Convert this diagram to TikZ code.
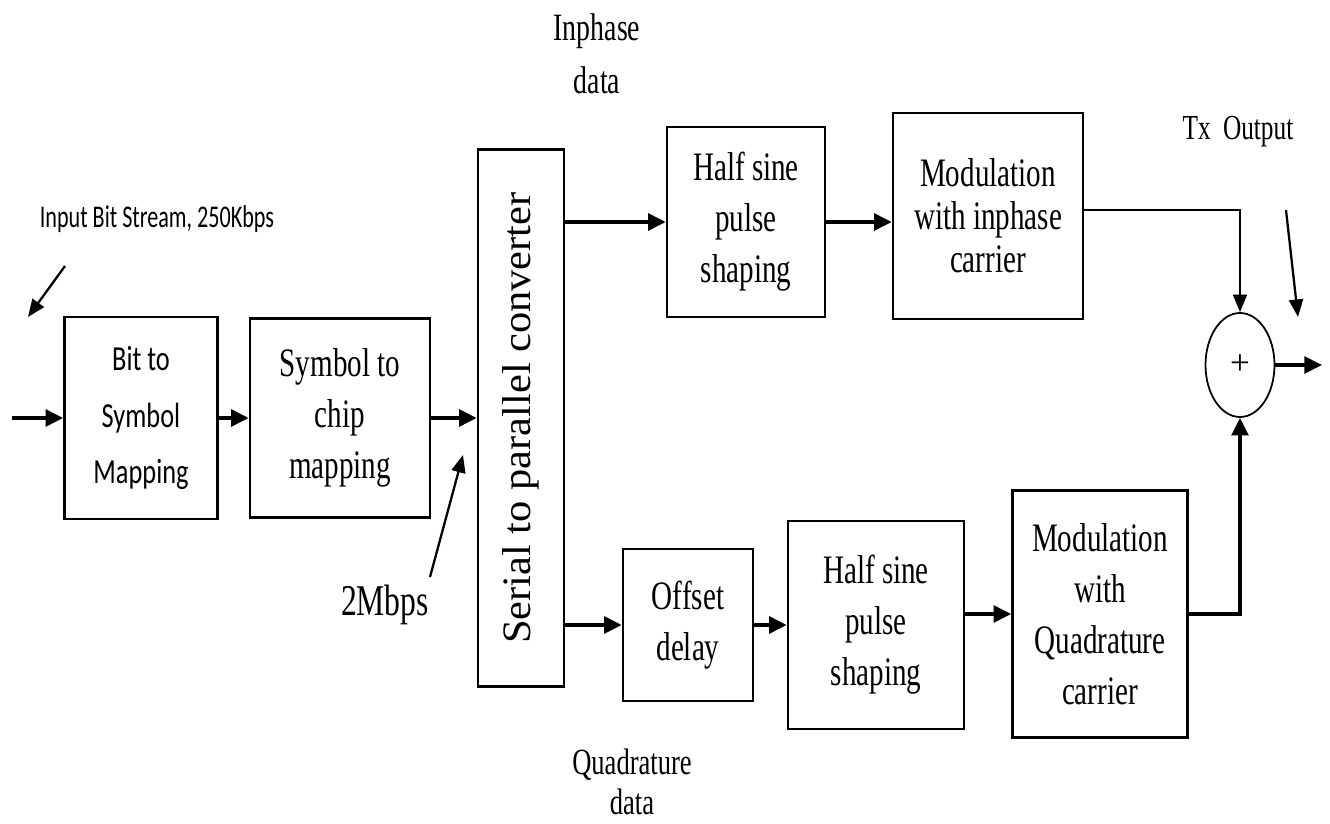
\documentclass[tikz,border=0pt]{standalone}
\usepackage{fontspec}
\usetikzlibrary{arrows.meta,shapes.geometric}
\setmainfont{Liberation Serif}
\newfontfamily\narrowserif[FakeStretch=0.72]{Liberation Serif}
\newfontfamily\wideserif[FakeStretch=1.05]{Liberation Serif}
\newfontfamily\narrowsans[FakeStretch=0.75]{Carlito}
\newfontfamily\slimsans[FakeStretch=0.7]{Carlito}

\begin{document}
\begin{tikzpicture}[x=0.02cm, y=-0.02cm,
  block/.style={draw, line width=1.5pt, align=center, inner sep=0pt,
    font=\narrowserif\fontsize{23}{29}\selectfont},
  flow/.style={line width=2pt, -{Triangle[length=10pt,width=9.5pt]}},
  thinflow/.style={line width=1pt, -{Triangle[length=10pt,width=8pt]}},
  note/.style={font=\narrowserif\fontsize{20}{28}\selectfont, align=center}]
  \useasboundingbox (0,0) rectangle (1330,824);

  % Blocks of the transmit chain
  \node[block, minimum width=30.6mm, minimum height=40.4mm,
    font=\narrowsans\fontsize{20}{32}\selectfont] (bitsym) at (141,418) {Bit to\\Symbol\\Mapping};
  \node[block, minimum width=36mm, minimum height=39.8mm] (chipmap) at (340,418) {Symbol to\\chip\\mapping};
  \node[block, minimum width=17.2mm, minimum height=107.4mm] (s2p) at (521,418)
    {\rotatebox{90}{\wideserif\fontsize{23}{28}\selectfont Serial to parallel converter}};
  \node[block, minimum width=31.6mm, minimum height=38mm] (shapeI) at (746,222) {Half sine\\pulse\\shaping};
  \node[block, minimum width=38mm, minimum height=41.2mm,
    font=\narrowserif\fontsize{23}{24.5}\selectfont] (modI) at (988,216) {Modulation\\with inphase\\carrier};
  \node[block, minimum width=26mm, minimum height=30.4mm] (delay) at (688,625) {Offset\\delay};
  \node[block, minimum width=35.2mm, minimum height=41.6mm] (shapeQ) at (876,625) {Half sine\\pulse\\shaping};
  \node[block, minimum width=35mm, minimum height=49.4mm] (modQ) at (1100,614) {Modulation\\with\\Quadrature\\carrier};
  \node[draw, ellipse, line width=1pt, minimum width=13.8mm, minimum height=20.8mm,
    inner sep=0pt, font=\fontsize{20}{22}\selectfont] (sum) at (1240,365) {+};

  % Free ends
  \coordinate (in) at (12,418);
  \coordinate (out) at (1322,365);

  % Main signal path
  \draw[flow] (in) -- (bitsym.west);
  \draw[flow] (bitsym.east) -- (chipmap.west);
  \draw[flow] (chipmap.east) -- (s2p.west);
  \draw[flow] (s2p.east |- shapeI) -- (shapeI.west);
  \draw[flow] (shapeI.east) -- (shapeI.east -| modI.west);
  \draw[flow] (s2p.east |- delay) -- (delay.west);
  \draw[flow] (delay.east) -- (shapeQ.west);
  \draw[flow] (shapeQ.east |- modQ.west) -- (modQ.west);
  \draw[thinflow] ([yshift=0.12cm]modI.east) -| (sum.north);
  \draw[flow] (modQ.east) -| (sum.south);
  \draw[flow] (sum.east) -- (out);

  % Labels and pointers
  \node[note, font=\slimsans\fontsize{18}{20}\selectfont] (inlbl) at (157,219) {Input Bit Stream, 250Kbps};
  \coordinate (inptr) at (65,266);
  \coordinate (inend) at (28,317);
  \draw[thinflow, line width=1.3pt] (inptr) -- (inend);

  \node[note, font=\narrowserif\fontsize{25}{28}\selectfont] (ratelbl) at (385,605) {2Mbps};
  \coordinate (rateptr) at (430,577);
  \coordinate (rateend) at (463,455);
  \draw[thinflow, line width=1.3pt] (rateptr) -- (rateend);

  \node[note, font=\narrowserif\fontsize{22}{30}\selectfont] (ilbl) at (597,54) {Inphase\\data};
  \node[note, font=\narrowserif\fontsize{21}{23}\selectfont] (qlbl) at (632,782) {Quadrature\\data};

  \node[note] (txlbl) at (1238,132) {Tx\, Output};
  \coordinate (txptr) at (1286,210);
  \coordinate (txend) at (1298,317);
  \draw[thinflow, line width=1.3pt] (txptr) -- (txend);
\end{tikzpicture}
\end{document}
